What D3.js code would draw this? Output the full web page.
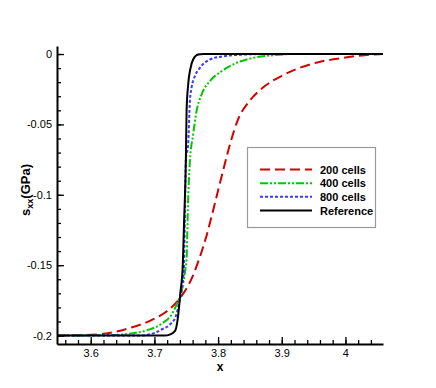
<!DOCTYPE html>
<html>
<head>
<meta charset="utf-8">
<script src="https://cdn.jsdelivr.net/npm/d3@7"></script>
<style>
  body { margin: 0; background: #fff; }
  svg { display: block; font-family: "Liberation Sans", Arial, sans-serif; }
  .axis text { font-size: 11px; fill: #000; }
</style>
</head>
<body>
<div id="chart"></div>
<script>
// data
var x200 = [3.547, 3.58, 3.62, 3.66, 3.70, 3.72, 3.74, 3.76, 3.77, 3.78, 3.79, 3.80, 3.81, 3.82, 3.83, 3.85, 3.87, 3.90, 3.93, 3.96, 4.00, 4.03, 4.059];
var y200 = [-0.2, -0.1998, -0.1988, -0.1948, -0.1880, -0.1825, -0.1735, -0.158, -0.146, -0.132, -0.115, -0.097, -0.079, -0.062, -0.048, -0.033, -0.024, -0.0155, -0.0095, -0.0055, -0.0025, -0.0008, 0];

var x400 = [3.547, 3.63, 3.66, 3.69, 3.711, 3.727, 3.736, 3.7426, 3.7486, 3.7505, 3.7525, 3.7557, 3.7608, 3.7662, 3.774, 3.787, 3.8055, 3.829, 3.855, 3.881, 3.92, 4.059];
var y400 = [-0.2, -0.1997, -0.1987, -0.1960, -0.1917, -0.1851, -0.1768, -0.1685, -0.1531, -0.146, -0.110, -0.0762, -0.0572, -0.0406, -0.0288, -0.0193, -0.0122, -0.0063, -0.0027, -0.0011, 0, 0];

var x800 = [3.547, 3.677, 3.7006, 3.7112, 3.7242, 3.7336, 3.7388, 3.7426, 3.7462, 3.7478, 3.7494, 3.753, 3.7557, 3.7583, 3.7635, 3.7714, 3.787, 3.808, 3.84, 3.87, 4.059];
var y800 = [-0.2, -0.2, -0.1981, -0.1957, -0.1922, -0.1863, -0.1768, -0.1685, -0.1531, -0.1176, -0.075, -0.0643, -0.0335, -0.024, -0.0158, -0.0098, -0.0039, -0.0016, -0.0004, 0, 0];

var xRef = [3.547, 3.716, 3.7242, 3.7321, 3.7357, 3.7388, 3.741, 3.7442, 3.7467, 3.7494, 3.7505, 3.753, 3.7568, 3.7608, 3.7687, 3.7766, 4.059];
var yRef = [-0.2, -0.2, -0.1993, -0.1969, -0.191, -0.1792, -0.1685, -0.1531, -0.1176, -0.075, -0.0406, -0.0217, -0.0098, -0.0039, -0.0004, 0, 0];

var xTicks = [3.6, 3.7, 3.8, 3.9, 4];
var yTicks = [0, -0.05, -0.1, -0.15, -0.2];
var seriesNames = ["200 cells", "400 cells", "800 cells", "Reference"];

var width = 436, height = 388;
var svg = d3.select("#chart").append("svg").attr("width", width).attr("height", height);

var x = d3.scaleLinear().domain([3.547, 4.059]).range([57, 383]);
var y = d3.scaleLinear().domain([-0.206, 0.0057]).range([344, 46]);

var series = [
  {name: seriesNames[0], xs: x200, ys: y200, color: "#d40000", dash: "10,5"},
  {name: seriesNames[1], xs: x400, ys: y400, color: "#00c800", dash: "8,2,2,2,2,2"},
  {name: seriesNames[2], xs: x800, ys: y800, color: "#3838ff", dash: "3,2"},
  {name: seriesNames[3], xs: xRef, ys: yRef, color: "#000", dash: null}
];

var line = d3.line()
  .x(function(d) { return x(d[0]); })
  .y(function(d) { return y(d[1]); })
  .curve(d3.curveMonotoneX);

var plot = svg.append("g");
series.forEach(function(s) {
  var pts = s.xs.map(function(v, i) { return [v, s.ys[i]]; });
  plot.append("path")
    .attr("d", line(pts))
    .attr("fill", "none")
    .attr("stroke", s.color)
    .attr("stroke-width", 2)
    .attr("stroke-dasharray", s.dash);
});

// minor ticks
svg.append("g").attr("class", "axis minor").attr("transform", "translate(0,344)")
  .call(d3.axisBottom(x).tickValues(d3.range(3.56, 4.06, 0.02)).tickSize(-4).tickFormat(""));
svg.append("g").attr("class", "axis minor").attr("transform", "translate(57,0)")
  .call(d3.axisLeft(y).tickValues(d3.range(0, -0.2055, -0.01)).tickSize(-4).tickFormat(""));
svg.selectAll(".minor path").remove();

// major ticks
var xAxis = svg.append("g").attr("class", "axis").attr("transform", "translate(0,344)")
  .call(d3.axisBottom(x).tickValues(xTicks).tickSizeInner(-7).tickSizeOuter(0).tickPadding(5)
    .tickFormat(function(d) { return String(d); }));
var yAxis = svg.append("g").attr("class", "axis").attr("transform", "translate(57,0)")
  .call(d3.axisLeft(y).tickValues(yTicks).tickSizeInner(-7).tickSizeOuter(0).tickPadding(5)
    .tickFormat(function(d) { return String(d); }));
svg.selectAll(".axis line").attr("stroke", "#000").attr("stroke-width", 1.3);
xAxis.select(".domain").attr("stroke", "#000").attr("stroke-width", 2);
yAxis.select(".domain").attr("stroke", "#000").attr("stroke-width", 2);

// axis titles
svg.append("text").attr("x", 220).attr("y", 371).attr("text-anchor", "middle")
  .attr("font-size", 12).attr("font-weight", "bold").text("x");

var yt = svg.append("text").attr("transform", "translate(30,190) rotate(-90)")
  .attr("text-anchor", "middle").attr("font-size", 13).attr("font-weight", "bold");
yt.append("tspan").text("s");
yt.append("tspan").attr("font-size", 9).attr("dy", 3).text("xx");
yt.append("tspan").attr("dy", -3).text("(GPa)");

// legend
var leg = svg.append("g");
leg.append("rect").attr("x", 247.5).attr("y", 147.5).attr("width", 128).attr("height", 80)
  .attr("fill", "#fff").attr("stroke", "#999").attr("stroke-width", 1.2);
var rowY = d3.scalePoint().domain(seriesNames).range([169.5, 210.5]);
series.forEach(function(s) {
  leg.append("line").attr("x1", 260).attr("x2", 312)
    .attr("y1", rowY(s.name)).attr("y2", rowY(s.name))
    .attr("stroke", s.color).attr("stroke-width", 2).attr("stroke-dasharray", s.dash);
  leg.append("text").attr("x", 320).attr("y", rowY(s.name) + 4)
    .attr("font-size", 11).attr("font-weight", "bold").text(s.name);
});
</script>
</body>
</html>
